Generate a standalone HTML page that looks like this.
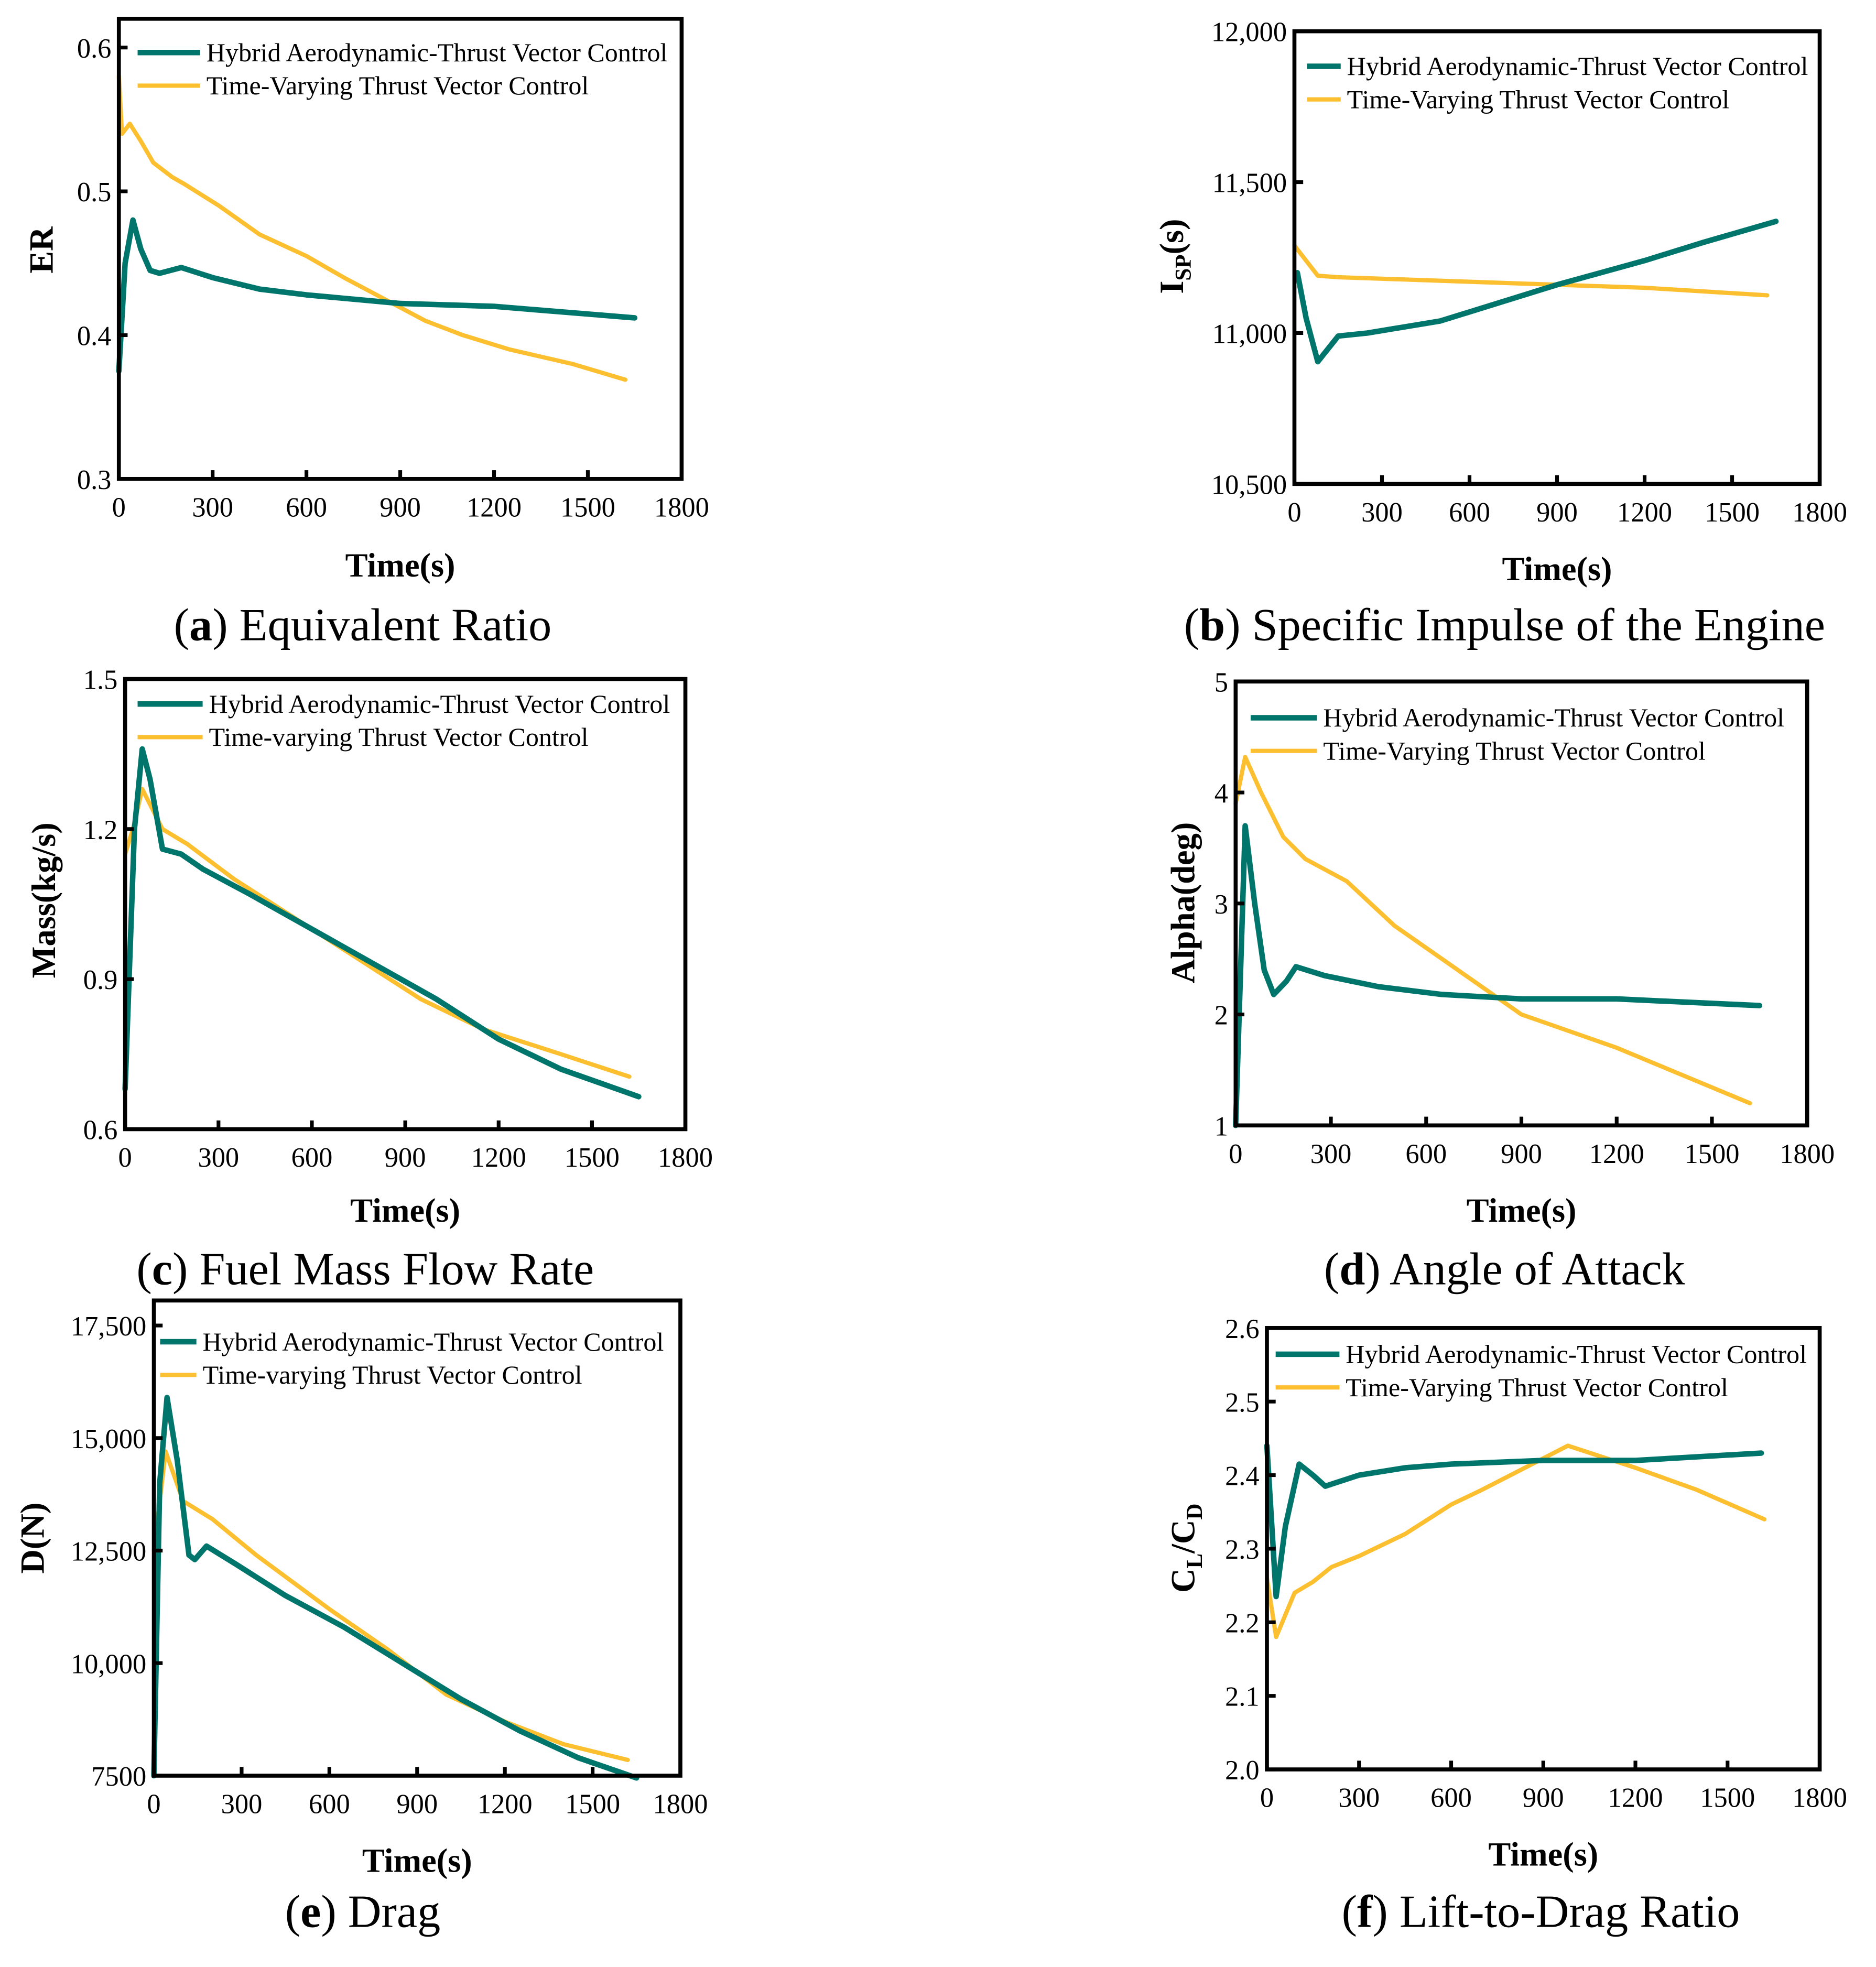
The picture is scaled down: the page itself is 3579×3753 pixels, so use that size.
<!DOCTYPE html>
<html><head><meta charset="utf-8"><style>
html,body{margin:0;padding:0;background:#fff}
svg{display:block}
text{font-family:"Liberation Serif",serif;fill:#000}
</style></head><body>
<svg id="fig" width="3579" height="3753" viewBox="0 0 1500 1573" xmlns="http://www.w3.org/2000/svg"></svg>
<script>
// ---- data (t in s) ----
const aTealT=[0,20,45,70,100,130,200,300,450,600,750,900,1200,1650];
const aTealV=[0.375,0.45,0.48,0.46,0.445,0.443,0.447,0.44,0.432,0.428,0.425,0.422,0.42,0.412];
const aYelT=[0,10,35,70,110,170,210,320,450,600,720,850,980,1100,1250,1450,1620];
const aYelV=[0.58,0.54,0.547,0.535,0.52,0.51,0.505,0.49,0.47,0.455,0.44,0.425,0.41,0.4,0.39,0.38,0.369];
const bTealT=[10,40,80,150,250,500,700,900,1200,1400,1650];
const bTealV=[11200,11050,10905,10990,11000,11040,11100,11160,11240,11300,11370];
const bYelT=[0,40,80,150,300,600,900,1200,1620];
const bYelV=[11290,11240,11190,11185,11180,11170,11160,11150,11125];
const cTealT=[0,30,55,80,120,180,250,400,600,800,1000,1200,1400,1650];
const cTealV=[0.68,1.2,1.36,1.3,1.16,1.15,1.12,1.07,1.0,0.93,0.86,0.78,0.72,0.665];
const cYelT=[0,25,55,120,200,350,550,750,950,1150,1400,1620];
const cYelV=[1.15,1.2,1.28,1.2,1.17,1.1,1.02,0.94,0.86,0.8,0.75,0.705];
const dTealT=[0,30,60,90,120,160,190,280,450,650,900,1200,1500,1650];
const dTealV=[1.0,3.7,3.0,2.4,2.18,2.3,2.43,2.35,2.25,2.18,2.14,2.14,2.1,2.08];
const dYelT=[0,30,80,150,220,350,500,700,900,1200,1620];
const dYelV=[3.9,4.32,4.0,3.6,3.4,3.2,2.8,2.4,2.0,1.7,1.2];
const eTealT=[0,20,45,80,120,140,180,280,450,650,850,1050,1250,1450,1650];
const eTealV=[7500,14000,15900,14500,12400,12300,12600,12200,11500,10800,10000,9200,8500,7900,7450];
const eYelT=[0,40,100,200,350,600,800,1000,1200,1400,1620];
const eYelV=[12500,14700,13600,13200,12400,11200,10300,9300,8700,8200,7850];
const fTealT=[0,30,60,105,150,190,300,450,600,900,1200,1610];
const fTealV=[2.44,2.235,2.33,2.415,2.4,2.385,2.40,2.41,2.415,2.42,2.42,2.43];
const fYelT=[0,30,90,150,210,300,450,600,700,980,1200,1400,1620];
const fYelV=[2.26,2.18,2.24,2.255,2.275,2.29,2.32,2.36,2.38,2.44,2.41,2.38,2.34];
const xTicks=[0,300,600,900,1200,1500,1800];
const aYTicks=[0.3,0.4,0.5,0.6], aYLabels=["0.3","0.4","0.5","0.6"];
const bYTicks=[10500,11000,11500,12000], bYLabels=["10,500","11,000","11,500","12,000"];
const cYTicks=[0.6,0.9,1.2,1.5], cYLabels=["0.6","0.9","1.2","1.5"];
const dYTicks=[1,2,3,4,5], dYLabels=["1","2","3","4","5"];
const eYTicks=[7500,10000,12500,15000,17500], eYLabels=["7500","10,000","12,500","15,000","17,500"];
const fYTicks=[2.0,2.1,2.2,2.3,2.4,2.5,2.6], fYLabels=["2.0","2.1","2.2","2.3","2.4","2.5","2.6"];

const NS="http://www.w3.org/2000/svg", svg=document.getElementById('fig');
function mk(tag,attrs,parent,txt){const e=document.createElementNS(NS,tag);for(const k in attrs)e.setAttribute(k,attrs[k]);if(txt!==undefined)e.textContent=txt;(parent||svg).appendChild(e);return e;}
const TEAL="#00756b", YEL="#fcbf2f";

function panel(p){
  const g=mk('g',{});
  
  
  const sx=t=>p.x0+(t/1800)*(p.x1-p.x0);
  const sy=v=>p.yb-(v-p.ymin)/(p.ymax-p.ymin)*(p.yb-p.yt);
  function line(T,V,col,w,name){
    let d='';T.forEach((t,i)=>{d+=(i?'L':'M')+sx(t).toFixed(2)+','+sy(V[i]).toFixed(2);});
    const l=mk('path',{d:d,fill:'none',stroke:col,'stroke-width':w,'stroke-linejoin':'round','stroke-linecap':'round'},g);
    
    
  }
  line(p.yT,p.yV,YEL,3.4,p.id+'-time-varying-line');
  line(p.tT,p.tV,TEAL,4.4,p.id+'-hybrid-line');
  const fr=mk('rect',{x:p.x0,y:p.top,width:p.x1-p.x0,height:p.yb-p.top,fill:'none',stroke:'#000','stroke-width':3.2},g);
  
  
  xTicks.forEach(t=>{
    const x=sx(t);
    if(t>0&&t<1800) mk('line',{x1:x,x2:x,y1:p.yb,y2:p.yb-7,stroke:'#000','stroke-width':3},g);
    const tl=mk('text',{x:x,y:p.yb+30,'font-size':22,'text-anchor':'middle'},g,String(t));
    
    
  });
  p.yTicks.forEach((v,i)=>{
    const y=sy(v);
    mk('line',{x1:p.x0,x2:p.x0+7,y1:y,y2:y,stroke:'#000','stroke-width':3},g);
    const tl=mk('text',{x:p.x0-6,y:y+8,'font-size':22,'text-anchor':'end'},g,p.yLabels[i]);
    
    
  });
  const xt=mk('text',{x:(p.x0+p.x1)/2,y:p.xtY,'font-size':27,'font-weight':'bold','text-anchor':'middle'},g,'Time(s)');
  
  
  const yt=mk('text',{x:0,y:0,'font-size':27,'font-weight':'bold','text-anchor':'middle',transform:`translate(${p.ytX},${p.ytY}) rotate(-90)`},g);
  
  
  p.ytParts.forEach(pt=>{mk('tspan',pt.sub?{'font-size':18,dy:6}:{dy:pt.up?-6:0},yt,pt.t);});
  [[TEAL,'Hybrid Aerodynamic-Thrust Vector Control',4.4,'legend-entry-hybrid'],[YEL,p.yelName,3.4,'legend-entry-time-varying']].forEach((L,i)=>{
    const y=p.legY+i*26.5;
    const lg=mk('g',{},g);
    
    
    mk('line',{x1:p.legX,x2:p.legX+p.legW,y1:y,y2:y,stroke:L[0],'stroke-width':L[2]},lg);
    mk('text',{x:p.legX+p.legW+5,y:y+7,'font-size':21},lg,L[1]);
  });
  const cap=mk('text',{x:p.capX,y:p.capY,'font-size':37,'text-anchor':'middle'},g);
  
  
  mk('tspan',{},cap,'(');mk('tspan',{'font-weight':'bold'},cap,p.letter);mk('tspan',{},cap,') '+p.cap);
}

panel({id:'a',x0:95,x1:545,top:15,yt:38,yb:383,ymin:0.3,ymax:0.6,tT:aTealT,tV:aTealV,yT:aYelT,yV:aYelV,yTicks:aYTicks,yLabels:aYLabels,xtY:461,ytX:42,ytY:200,ytParts:[{t:'ER'}],legX:110,legW:50,legY:42,yelName:'Time-Varying Thrust Vector Control',capX:290,capY:512,letter:'a',cap:'Equivalent Ratio'});
panel({id:'b',x0:1035,x1:1455,top:25,yt:25,yb:387,ymin:10500,ymax:12000,tT:bTealT,tV:bTealV,yT:bYelT,yV:bYelV,yTicks:bYTicks,yLabels:bYLabels,xtY:464,ytX:946,ytY:205,ytParts:[{t:'I'},{t:'SP',sub:true},{t:'(s)',up:true}],legX:1045,legW:27,legY:53,yelName:'Time-Varying Thrust Vector Control',capX:1203,capY:512,letter:'b',cap:'Specific Impulse of the Engine'});
panel({id:'c',x0:100,x1:548,top:543,yt:543,yb:903,ymin:0.6,ymax:1.5,tT:cTealT,tV:cTealV,yT:cYelT,yV:cYelV,yTicks:cYTicks,yLabels:cYLabels,xtY:977,ytX:44,ytY:720,ytParts:[{t:'Mass(kg/s)'}],legX:110,legW:52,legY:563,yelName:'Time-varying Thrust Vector Control',capX:292,capY:1027,letter:'c',cap:'Fuel Mass Flow Rate'});
panel({id:'d',x0:988,x1:1445,top:545,yt:545,yb:900,ymin:1,ymax:5,tT:dTealT,tV:dTealV,yT:dYelT,yV:dYelV,yTicks:dYTicks,yLabels:dYLabels,xtY:977,ytX:955,ytY:722,ytParts:[{t:'Alpha(deg)'}],legX:1000,legW:53,legY:574,yelName:'Time-Varying Thrust Vector Control',capX:1203,capY:1027,letter:'d',cap:'Angle of Attack'});
panel({id:'e',x0:123,x1:544,top:1040,yt:1060,yb:1420,ymin:7500,ymax:17500,tT:eTealT,tV:eTealV,yT:eYelT,yV:eYelV,yTicks:eYTicks,yLabels:eYLabels,xtY:1497,ytX:35,ytY:1230,ytParts:[{t:'D(N)'}],legX:128,legW:29,legY:1073,yelName:'Time-varying Thrust Vector Control',capX:290,capY:1541,letter:'e',cap:'Drag'});
panel({id:'f',x0:1013,x1:1455,top:1062,yt:1062,yb:1415,ymin:2.0,ymax:2.6,tT:fTealT,tV:fTealV,yT:fYelT,yV:fYelV,yTicks:fYTicks,yLabels:fYLabels,xtY:1492,ytX:955,ytY:1238,ytParts:[{t:'C'},{t:'L',sub:true},{t:'/C',up:true},{t:'D',sub:true}],legX:1020,legW:51,legY:1083,yelName:'Time-Varying Thrust Vector Control',capX:1232,capY:1541,letter:'f',cap:'Lift-to-Drag Ratio'});
</script>
</body></html>
